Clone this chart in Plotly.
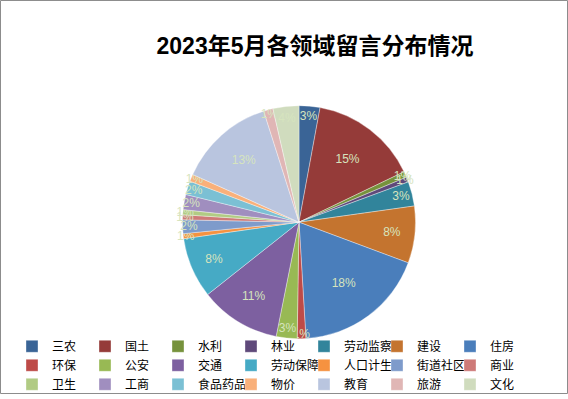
import plotly.graph_objects as go

categories = ["三农", "国土", "水利", "林业", "劳动监察", "建设", "住房",
              "环保", "公安", "交通", "劳动保障", "人口计生", "街道社区", "商业",
              "卫生", "工商", "食品药品", "物价", "教育", "旅游", "文化"]
shares = [2.9, 15.0, 0.8, 0.7, 3.4, 7.9, 18.4,
          1.2, 2.9, 11.2, 8.4, 0.7, 1.9, 0.7,
          0.7, 2.1, 1.9, 1.0, 13.4, 1.3, 3.6]
colors = ["#3A6496", "#953B39", "#76923C", "#5F497A", "#31849B", "#C4742F", "#4A7EBB",
          "#BE4B48", "#98B954", "#7D60A0", "#46AAC5", "#F69240", "#7E9BCB", "#CE7A78",
          "#B1CB84", "#A08EBF", "#7BC0D4", "#F9B07A", "#B9C5DF", "#E0B6B5", "#D0DCBE"]
title_text = "2023年5月各领域留言分布情况"

W, H = 568, 399
cx, cy, r = 299, 225, 118

fig = go.Figure(go.Pie(
    labels=categories,
    values=shares,
    sort=False,
    direction="clockwise",
    rotation=0,
    marker=dict(colors=colors, line=dict(color="rgba(255,255,255,0.6)", width=0.6)),
    texttemplate="%{percent:.0%}",
    textposition="inside",
    insidetextorientation="horizontal",
    textfont=dict(family="Liberation Sans, Noto Sans CJK SC", size=12, color="#D6E4BE"),
    hoverinfo="label+percent",
    domain=dict(x=[(cx - r) / W, (cx + r) / W], y=[(H - cy - r) / H, (H - cy + r) / H]),
))

fig.update_layout(
    width=W, height=H,
    margin=dict(l=0, r=0, t=0, b=0),
    paper_bgcolor="white",
    plot_bgcolor="white",
    uniformtext=dict(minsize=12, mode="show"),
    title=dict(
        text="<b>" + title_text + "</b>",
        x=315 / W, xanchor="center",
        y=1 - 46 / H, yanchor="middle",
        font=dict(family="Liberation Sans, Noto Sans CJK SC", size=23, color="#000000"),
    ),
    legend=dict(
        orientation="h",
        x=12 / W, xanchor="left",
        y=1 - 336 / H, yanchor="top",
        entrywidth=28, entrywidthmode="pixels",
        font=dict(family="Noto Sans CJK SC", size=12, color="#000000"),
        tracegroupgap=0,
        bgcolor="rgba(0,0,0,0)",
    ),
    shapes=[dict(type="rect", xref="paper", yref="paper",
                 x0=0.5 / W, x1=1 - 0.5 / W, y0=0.5 / H, y1=1 - 0.5 / H,
                 line=dict(color="#8C8C8C", width=1), layer="above")],
)

fig.write_html("out.html", post_script="document.body.style.margin='0';",
               config={"displayModeBar": False})
